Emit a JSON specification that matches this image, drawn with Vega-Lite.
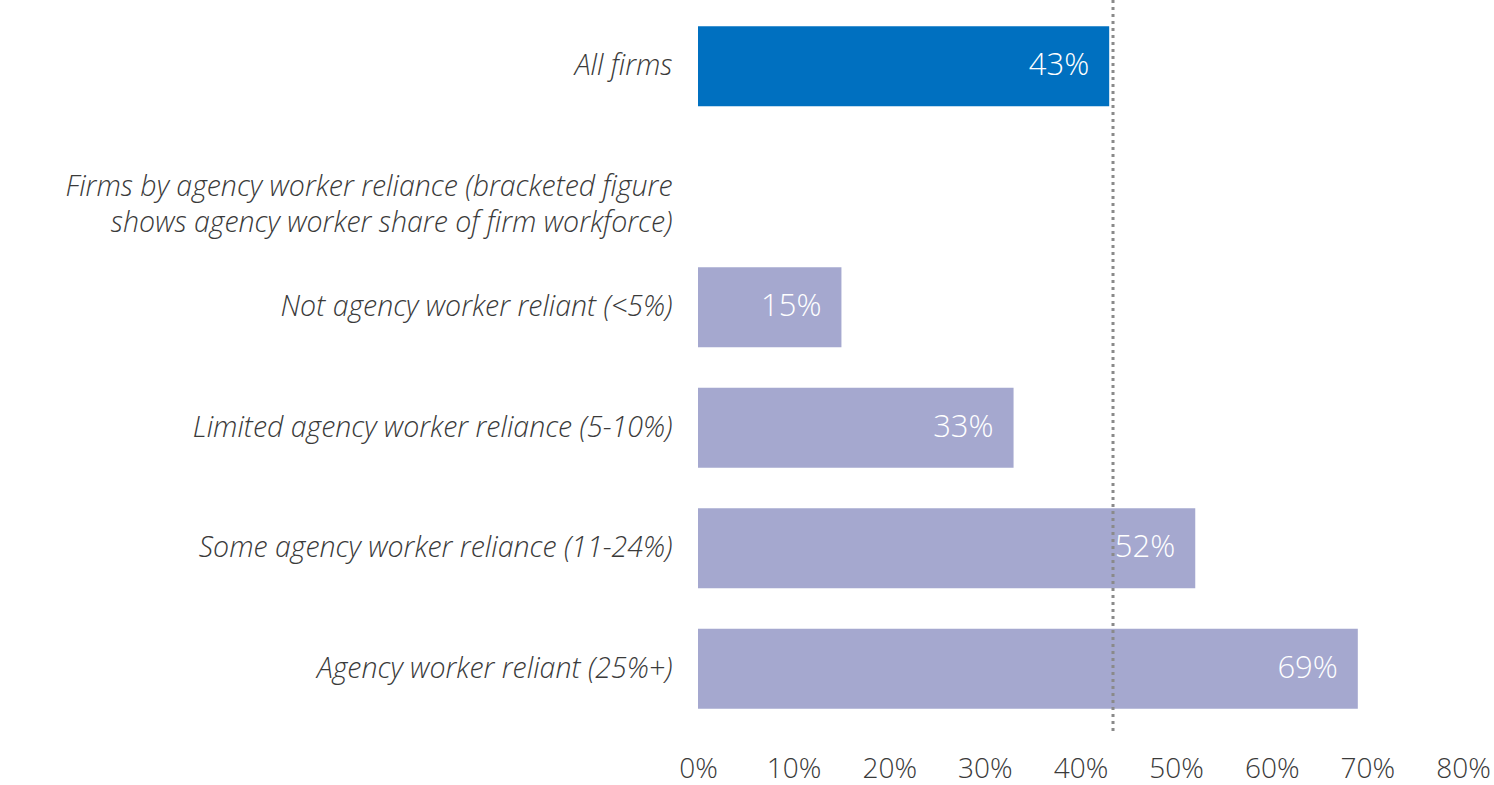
{
  "$schema": "https://vega.github.io/schema/vega-lite/v6.json",
  "width": 765,
  "height": 735,
  "autosize": {"type": "none"},
  "padding": {"left": 698, "top": 0, "right": 31, "bottom": 50},
  "background": "white",
  "config": {"view": {"stroke": null}, "font": "Open Sans"},
  "data": {
    "values": [
      {"category": "All firms", "value": 43, "group": "all"},
      {"category": "Firms by agency worker reliance (bracketed figure|shows agency worker share of firm workforce)", "value": 0, "group": "none"},
      {"category": "Not agency worker reliant (<5%)", "value": 15, "group": "sub"},
      {"category": "Limited agency worker reliance (5-10%)", "value": 33, "group": "sub"},
      {"category": "Some agency worker reliance (11-24%)", "value": 52, "group": "sub"},
      {"category": "Agency worker reliant (25%+)", "value": 69, "group": "sub"}
    ]
  },
  "layer": [
    {
      "mark": {"type": "bar"},
      "encoding": {
        "y": {
          "field": "category",
          "type": "nominal",
          "sort": null,
          "scale": {
            "domain": ["All firms", "Firms by agency worker reliance (bracketed figure|shows agency worker share of firm workforce)", "Not agency worker reliant (<5%)", "Limited agency worker reliance (5-10%)", "Some agency worker reliance (11-24%)", "Agency worker reliant (25%+)"],
            "paddingInner": 0.336,
            "paddingOuter": 0.218
          },
          "axis": {
            "title": null,
            "domain": false,
            "ticks": false,
            "labelPadding": 26,
            "labelFont": "Open Sans",
            "labelFontStyle": "italic",
            "labelFontWeight": 300,
            "labelFontSize": 28.5,
            "labelColor": "#3a3a3a",
            "labelLimit": 700,
            "labelLineHeight": 36,
            "labelExpr": "split(datum.label, '|')"
          }
        },
        "x": {
          "field": "value",
          "type": "quantitative",
          "scale": {"domain": [0, 80], "nice": false},
          "axis": {
            "title": null,
            "domain": false,
            "ticks": false,
            "grid": false,
            "values": [0, 10, 20, 30, 40, 50, 60, 70, 80],
            "labelExpr": "datum.value + '%'",
            "labelFont": "Open Sans",
            "labelFontWeight": 300,
            "labelFontSize": 28,
            "labelColor": "#3a3a3a",
            "labelPadding": 20,
            "labelFlush": false
          }
        },
        "color": {
          "field": "group",
          "type": "nominal",
          "scale": {"domain": ["all", "sub", "none"], "range": ["#0070C0", "#A5A8CF", "#ffffff"]},
          "legend": null
        }
      }
    },
    {
      "mark": {"type": "text", "align": "right", "baseline": "middle", "dx": -20, "color": "white", "fontSize": 31, "font": "Open Sans", "fontWeight": 300},
      "transform": [{"filter": "datum.group != 'none'"}, {"calculate": "datum.value + '%'", "as": "lbl"}],
      "encoding": {
        "y": {"field": "category", "type": "nominal", "sort": null},
        "x": {"field": "value", "type": "quantitative"},
        "text": {"field": "lbl", "type": "nominal"}
      }
    },
    {
      "data": {"values": [{"ref": 43.4}]},
      "mark": {"type": "rule", "color": "#8a8a8a", "strokeWidth": 3, "strokeDash": [3, 4]},
      "encoding": {"x": {"field": "ref", "type": "quantitative"}}
    }
  ]
}
